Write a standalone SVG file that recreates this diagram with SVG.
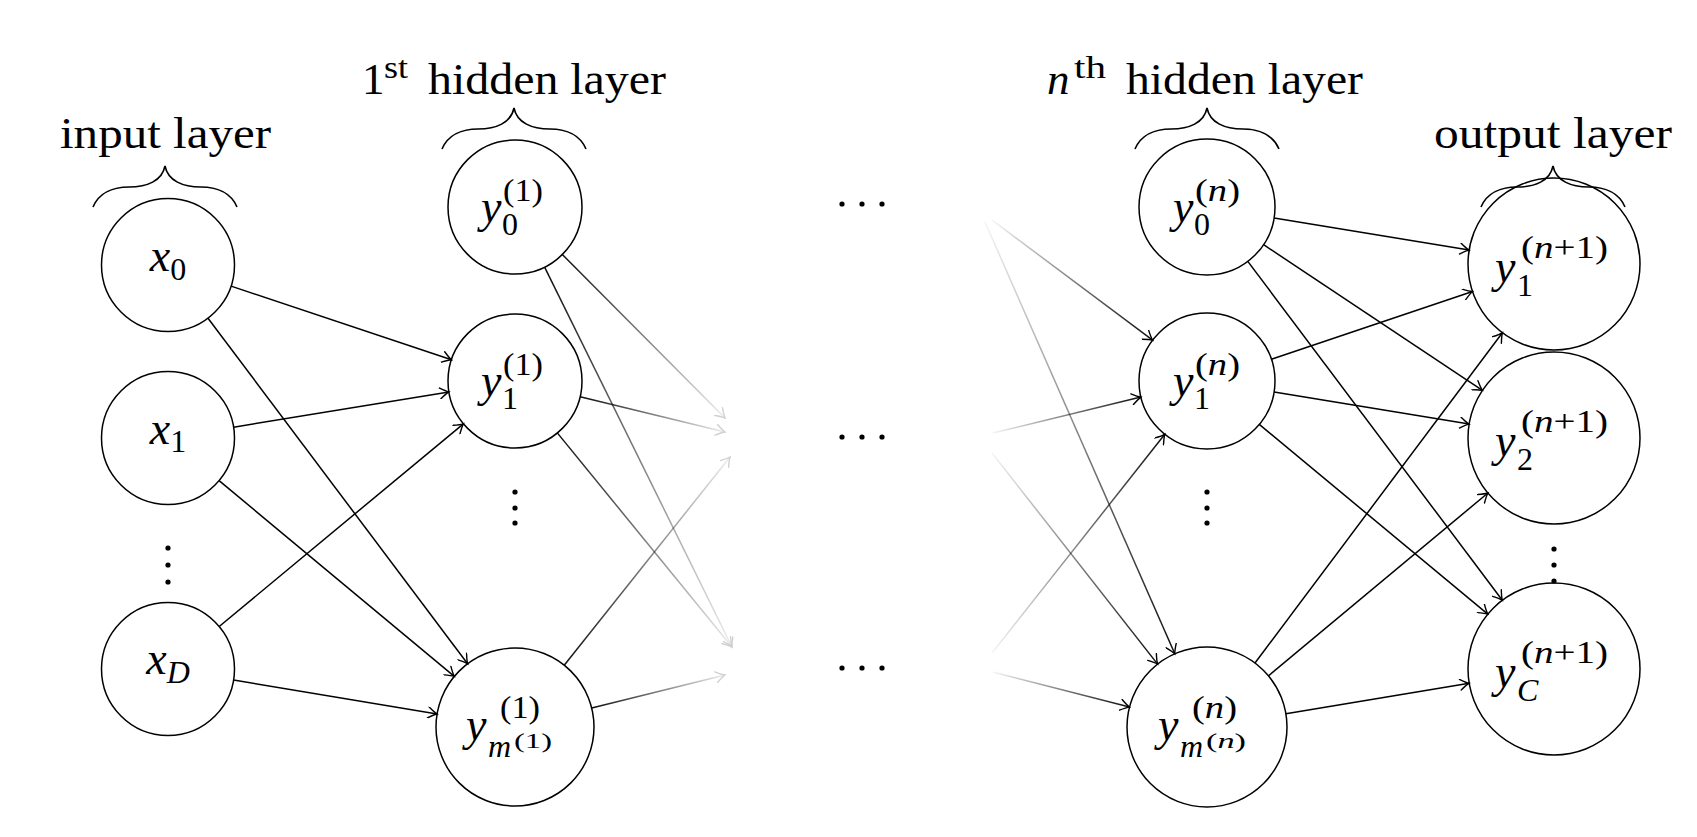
<svg xmlns="http://www.w3.org/2000/svg" width="1697" height="837" viewBox="0 0 1697 837">
<style>
.node{fill:none;stroke:#000;stroke-width:1.5}
.t{font-family:"Liberation Serif","Times New Roman",serif;fill:#000}
.mi{font-style:italic;font-size:46px}
.sc{font-size:32px}
.sci{font-style:italic;font-size:32px}
.ss{font-size:22px}
.ti{font-size:45px}
.edge{fill:none;stroke:#000;stroke-width:1.5}
.brace{fill:none;stroke:#000;stroke-width:1.6}
.dot{fill:#000}
</style>
<defs>
<marker id="arr" viewBox="-10 -6 12 12" refX="0" refY="0" markerWidth="12" markerHeight="12" markerUnits="userSpaceOnUse" orient="auto">
<path d="M-9,-5.5 Q-3,-1.2 0,0 Q-3,1.2 -9,5.5" fill="none" stroke="#000" stroke-width="1.4" stroke-linecap="round"/>
</marker>
<marker id="arrf" viewBox="-10 -6 12 12" refX="0" refY="0" markerWidth="12" markerHeight="12" markerUnits="userSpaceOnUse" orient="auto">
<path d="M-9,-5.5 Q-3,-1.2 0,0 Q-3,1.2 -9,5.5" fill="none" stroke="#d0d0d0" stroke-width="1.4" stroke-linecap="round"/>
</marker>
<linearGradient id="fo-dr" x1="0" y1="0" x2="1" y2="1"><stop offset="0" stop-color="#000" stop-opacity="0.95"/><stop offset="1" stop-color="#000" stop-opacity="0.07"/></linearGradient>
<linearGradient id="fo-ur" x1="0" y1="1" x2="1" y2="0"><stop offset="0" stop-color="#000" stop-opacity="0.95"/><stop offset="1" stop-color="#000" stop-opacity="0.07"/></linearGradient>
<linearGradient id="fi-dr" x1="0" y1="0" x2="1" y2="1"><stop offset="0" stop-color="#000" stop-opacity="0.04"/><stop offset="1" stop-color="#000" stop-opacity="0.95"/></linearGradient>
<linearGradient id="fi-ur" x1="0" y1="1" x2="1" y2="0"><stop offset="0" stop-color="#000" stop-opacity="0.04"/><stop offset="1" stop-color="#000" stop-opacity="0.95"/></linearGradient>
</defs>
<rect width="1697" height="837" fill="#fff"/>

<g id="connectors">
<g class="edge" marker-end="url(#arr)">
<line x1="231.1" y1="286.1" x2="451.5" y2="359.8"/>
<line x1="208.0" y1="318.2" x2="467.6" y2="663.8"/>
<line x1="233.6" y1="427.2" x2="448.9" y2="391.9"/>
<line x1="219.1" y1="480.6" x2="454.3" y2="676.4"/>
<line x1="219.2" y1="626.5" x2="463.4" y2="423.8"/>
<line x1="233.6" y1="680.0" x2="437.1" y2="714.0"/>
<line x1="1274.1" y1="218.0" x2="1469.1" y2="250.1"/>
<line x1="1263.6" y1="244.7" x2="1482.4" y2="390.3"/>
<line x1="1247.8" y1="261.4" x2="1502.3" y2="600.2"/>
<line x1="1271.4" y1="359.3" x2="1472.5" y2="291.5"/>
<line x1="1274.1" y1="392.0" x2="1469.1" y2="424.1"/>
<line x1="1259.3" y1="424.4" x2="1487.8" y2="614.1"/>
<line x1="1255.0" y1="663.0" x2="1502.4" y2="332.8"/>
<line x1="1268.5" y1="675.8" x2="1487.9" y2="493.0"/>
<line x1="1285.9" y1="713.8" x2="1469.2" y2="683.2"/>
</g>
<g class="edge" marker-end="url(#arrf)">
<line x1="562.3" y1="254.5" x2="725" y2="418" stroke="url(#fo-dr)"/>
<line x1="580.1" y1="396.8" x2="725" y2="432" stroke="url(#fo-dr)"/>
<line x1="564.2" y1="665.2" x2="730" y2="457" stroke="url(#fo-ur)"/>
<line x1="544.6" y1="267.1" x2="732" y2="647" stroke="url(#fo-dr)"/>
<line x1="557.3" y1="432.9" x2="732" y2="647" stroke="url(#fo-dr)"/>
<line x1="591.7" y1="708.0" x2="725" y2="675" stroke="url(#fo-ur)"/>
</g>
<g class="edge" marker-end="url(#arr)">
<line x1="992" y1="220" x2="1152.6" y2="340.2" stroke="url(#fi-dr)"/>
<line x1="985" y1="222" x2="1174.8" y2="653.8" stroke="url(#fi-dr)"/>
<line x1="993" y1="433" x2="1140.9" y2="397.1" stroke="url(#fi-ur)"/>
<line x1="992" y1="453" x2="1157.6" y2="664.1" stroke="url(#fi-dr)"/>
<line x1="992" y1="653" x2="1164.8" y2="434.3" stroke="url(#fi-ur)"/>
<line x1="993" y1="672" x2="1129.5" y2="707.1" stroke="url(#fi-dr)"/>
</g>
</g>

<!-- input layer -->
<g id="x0">
<circle class="node" cx="168" cy="265" r="66.5"/>
<text class="t" x="168" y="271" text-anchor="middle"><tspan class="mi">x</tspan><tspan class="sc" dy="9">0</tspan></text>
</g>
<g id="x1">
<circle class="node" cx="168" cy="438" r="66.5"/>
<text class="t" x="168" y="444" text-anchor="middle"><tspan class="mi">x</tspan><tspan class="sc" dy="8">1</tspan></text>
</g>
<g id="xdots">
<circle class="dot" cx="168" cy="548" r="2.6"/><circle class="dot" cx="168" cy="565" r="2.6"/><circle class="dot" cx="168" cy="582" r="2.6"/>
</g>
<g id="xD">
<circle class="node" cx="168" cy="669" r="66.5"/>
<text class="t" x="168" y="674" text-anchor="middle"><tspan class="mi">x</tspan><tspan class="sci" dy="9">D</tspan></text>
</g>

<!-- first hidden layer -->
<g id="h0">
<circle class="node" cx="515" cy="207" r="67"/>
<text class="t mi" x="481" y="222">y</text>
<text class="t sc" x="502" y="235">0</text>
<text class="t sc" x="503" y="201" textLength="40" lengthAdjust="spacingAndGlyphs">(1)</text>
</g>
<g id="h1">
<circle class="node" cx="515" cy="381" r="67"/>
<text class="t mi" x="481" y="396">y</text>
<text class="t sc" x="502" y="409">1</text>
<text class="t sc" x="503" y="375" textLength="40" lengthAdjust="spacingAndGlyphs">(1)</text>
</g>
<g id="hdots">
<circle class="dot" cx="515" cy="492" r="2.6"/><circle class="dot" cx="515" cy="508" r="2.6"/><circle class="dot" cx="515" cy="523" r="2.6"/>
</g>
<g id="hm">
<circle class="node" cx="515" cy="727" r="79"/>
<text class="t mi" x="466" y="740">y</text>
<text class="t sci" x="488" y="757">m</text>
<text class="t ss" x="514" y="748" textLength="38" lengthAdjust="spacingAndGlyphs">(1)</text>
<text class="t sc" x="500" y="718" textLength="40" lengthAdjust="spacingAndGlyphs">(1)</text>
</g>

<!-- middle dots -->
<g id="mdots">
<circle class="dot" cx="842" cy="204" r="2.6"/><circle class="dot" cx="862" cy="204" r="2.6"/><circle class="dot" cx="882" cy="204" r="2.6"/>
<circle class="dot" cx="842" cy="437" r="2.6"/><circle class="dot" cx="862" cy="437" r="2.6"/><circle class="dot" cx="882" cy="437" r="2.6"/>
<circle class="dot" cx="842" cy="668" r="2.6"/><circle class="dot" cx="862" cy="668" r="2.6"/><circle class="dot" cx="882" cy="668" r="2.6"/>
</g>

<!-- nth hidden layer -->
<g id="n0">
<circle class="node" cx="1207" cy="207" r="68"/>
<text class="t mi" x="1173" y="222">y</text>
<text class="t sc" x="1194" y="235">0</text>
<text class="t sc" x="1195" y="201" textLength="45" lengthAdjust="spacingAndGlyphs">(<tspan font-style="italic">n</tspan>)</text>
</g>
<g id="n1">
<circle class="node" cx="1207" cy="381" r="68"/>
<text class="t mi" x="1173" y="396">y</text>
<text class="t sc" x="1194" y="409">1</text>
<text class="t sc" x="1195" y="375" textLength="45" lengthAdjust="spacingAndGlyphs">(<tspan font-style="italic">n</tspan>)</text>
</g>
<g id="ndots">
<circle class="dot" cx="1207" cy="492" r="2.6"/><circle class="dot" cx="1207" cy="508" r="2.6"/><circle class="dot" cx="1207" cy="523" r="2.6"/>
</g>
<g id="nm">
<circle class="node" cx="1207" cy="727" r="80"/>
<text class="t mi" x="1158" y="740">y</text>
<text class="t sci" x="1180" y="757">m</text>
<text class="t ss" x="1206" y="748" textLength="40" lengthAdjust="spacingAndGlyphs">(<tspan font-style="italic">n</tspan>)</text>
<text class="t sc" x="1192" y="718" textLength="45" lengthAdjust="spacingAndGlyphs">(<tspan font-style="italic">n</tspan>)</text>
</g>

<!-- output layer -->
<g id="o1">
<circle class="node" cx="1554" cy="264" r="86"/>
<text class="t mi" x="1495" y="282">y</text>
<text class="t sc" x="1517" y="296">1</text>
<text class="t sc" x="1521" y="258" textLength="87" lengthAdjust="spacingAndGlyphs">(<tspan font-style="italic">n</tspan>+1)</text>
</g>
<g id="o2">
<circle class="node" cx="1554" cy="438" r="86"/>
<text class="t mi" x="1495" y="456">y</text>
<text class="t sc" x="1517" y="470">2</text>
<text class="t sc" x="1521" y="432" textLength="87" lengthAdjust="spacingAndGlyphs">(<tspan font-style="italic">n</tspan>+1)</text>
</g>
<g id="odots">
<circle class="dot" cx="1554" cy="549" r="2.6"/><circle class="dot" cx="1554" cy="565" r="2.6"/><circle class="dot" cx="1554" cy="581" r="2.6"/>
</g>
<g id="oC">
<circle class="node" cx="1554" cy="669" r="86"/>
<text class="t mi" x="1495" y="687">y</text>
<text class="t sci" x="1517" y="701">C</text>
<text class="t sc" x="1521" y="663" textLength="87" lengthAdjust="spacingAndGlyphs">(<tspan font-style="italic">n</tspan>+1)</text>
</g>

<!-- layer titles and braces -->
<g id="title-input">
<path class="brace" d="M93,207 C99,193 113,187 129,187 C147,187 162,181 165,166 C168,181 183,187 201,187 C217,187 231,193 237,207"/>
<text class="t ti" x="60" y="148" textLength="211" lengthAdjust="spacingAndGlyphs">input layer</text>
</g>
<g id="title-hidden1">
<path class="brace" d="M442,149 C448,135 462,129 478,129 C496,129 511,123 514,108 C517,123 532,129 550,129 C566,129 580,135 586,149"/>
<text class="t ti" x="362" y="94">1</text>
<text class="t sc" x="384" y="78" textLength="24" lengthAdjust="spacingAndGlyphs">st</text>
<text class="t ti" x="428" y="94" textLength="238" lengthAdjust="spacingAndGlyphs">hidden layer</text>
</g>
<g id="title-hiddenn">
<path class="brace" d="M1135,149 C1141,135 1155,129 1171,129 C1189,129 1204,123 1207,108 C1210,123 1225,129 1243,129 C1259,129 1273,135 1279,149"/>
<text class="t ti" x="1047" y="94" font-style="italic">n</text>
<text class="t sc" x="1074" y="78" textLength="32" lengthAdjust="spacingAndGlyphs">th</text>
<text class="t ti" x="1126" y="94" textLength="237" lengthAdjust="spacingAndGlyphs">hidden layer</text>
</g>
<g id="title-output">
<path class="brace" d="M1481,207 C1487,193 1501,187 1517,187 C1535,187 1550,181 1553,166 C1556,181 1571,187 1589,187 C1605,187 1619,193 1625,207"/>
<text class="t ti" x="1434" y="148" textLength="238" lengthAdjust="spacingAndGlyphs">output layer</text>
</g>
</svg>
